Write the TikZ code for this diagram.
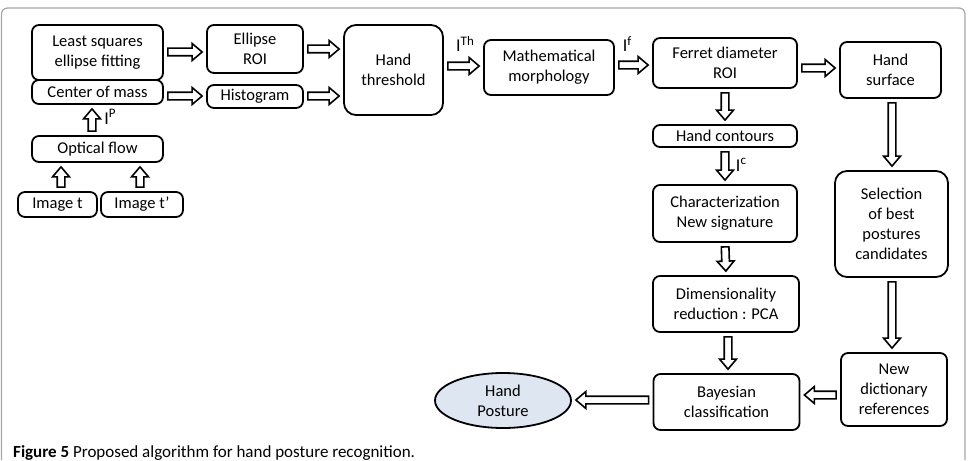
\documentclass[tikz,border=0pt]{standalone}
\usepackage{fontspec}
\setmainfont{Carlito}
\usetikzlibrary{positioning,calc,shapes.geometric}

\newcommand\flowgap{4pt}
\newcommand\flowhead{10pt}
\newcommand\flowhalf{8.5pt}
\newcommand\flowshaft{3.8pt}
\newcommand\supl[1]{\raisebox{0.75ex}{\fontsize{13}{13}\selectfont #1}}

\begin{document}
\begin{tikzpicture}[
  x=1pt, y=-1pt,
  box/.style={draw, line width=1.8pt, rounded corners=7pt, align=center, inner sep=0pt,
    font=\fontsize{16.5}{20}\selectfont},
  flow/.style={draw, line width=1.6pt, fill=white, line join=miter,
    to path={
      ($(\tikztostart)!\flowgap!(\tikztotarget)$) coordinate (fS)
      ($(\tikztotarget)!\flowgap!(\tikztostart)$) coordinate (fT)
      ($(fT)!\flowhead!(fS)$) coordinate (fQ)
      ($(fS)!\flowshaft!90:(fT)$) -- ($(fQ)!\flowshaft!-90:(fS)$)
      -- ($(fQ)!\flowhalf!-90:(fS)$) -- (fT) -- ($(fQ)!\flowhalf!90:(fS)$)
      -- ($(fQ)!\flowshaft!90:(fS)$) -- ($(fS)!\flowshaft!-90:(fT)$) -- cycle}},
  lbl/.style={font=\fontsize{18}{20}\selectfont, inner sep=0pt}
]
\useasboundingbox (0,0) rectangle (976,460);
% frame
\draw[gray!70, line width=1.2pt, rounded corners=6pt] (1.5,460) -- (1.5,8) -- (965,8) -- (965,460);

% left column
\node[box, minimum width=131pt, minimum height=55pt] (fit) at (97.5,52.5) {Least squares\\ellipse fitting};
\node[box, minimum width=131pt, minimum height=24pt] (mass) at (97.5,92) {Center of mass};
\node[box, minimum width=131pt, minimum height=26pt] (optflow) at (97.5,149) {Optical flow};
\node[box, minimum width=79pt, minimum height=25pt] (imgt) at (57.5,204.5) {Image t};
\node[box, minimum width=82pt, minimum height=25pt] (imgtt) at (142,204.5) {Image t'};

% top row
\node[box, minimum width=96pt, minimum height=48pt] (ellroi) at (255,49) {Ellipse\\ROI};
\node[box, minimum width=96pt, minimum height=23pt] (histo) at (255,96.5) {Histogram};
\node[box, rounded corners=12pt, minimum width=99pt, minimum height=90pt] (thresh) at (393.5,70) {Hand\\threshold};
\node[box, minimum width=130pt, minimum height=55pt] (morpho) at (549,67.5) {Mathematical\\morphology};
\node[box, minimum width=144pt, minimum height=50pt] (ferret) at (725,63) {Ferret diameter\\ROI};
\node[box, minimum width=101pt, minimum height=56pt] (surface) at (890.5,70) {Hand\\surface};

% middle column
\node[box, minimum width=144pt, minimum height=22pt] (contours) at (725,136) {Hand contours};
\node[box, minimum width=144pt, minimum height=57pt] (charac) at (725,213.5) {Characterization\\New signature};
\node[box, minimum width=146pt, minimum height=56pt] (pca) at (726,304) {Dimensionality\\reduction : PCA};
\node[box, minimum width=146pt, minimum height=56pt] (bayes) at (726.5,402) {Bayesian\\classification};
\node[box, ellipse, fill={rgb,255:red,221;green,230;blue,241}, minimum width=136pt, minimum height=55pt] (posture) at (503,400.5) {Hand\\Posture};

% right column
\node[box, rounded corners=12pt, minimum width=113pt, minimum height=106pt] (select) at (891.5,224) {Selection\\of best\\postures\\candidates};
\node[box, minimum width=106pt, minimum height=73pt] (newdict) at (894,389.5) {New\\dictionary\\references};

% arrows
\draw[flow] (optflow.north -| 92,0) to (mass.south -| 92,0);
\draw[flow] (imgt.north -| 61,0) to (optflow.south -| 61,0);
\draw[flow] (imgtt.north -| 140,0) to (optflow.south -| 140,0);
\draw[flow] (fit.east |- 0,52) to (ellroi.west |- 0,52);
\draw[flow] (mass.east |- 0,96) to (histo.west |- 0,96);
\draw[flow] (ellroi.east |- 0,49) to (thresh.west |- 0,49);
\draw[flow] (histo.east |- 0,96) to (thresh.west |- 0,96);
\draw[flow] (thresh.east |- 0,66) to (morpho.west |- 0,66);
\draw[flow] (morpho.east |- 0,65) to (ferret.west |- 0,65);
\draw[flow] (ferret.east |- 0,68) to (surface.west |- 0,68);
\draw[flow] (ferret.south) to (contours.north);
\draw[flow] (contours.south) to (charac.north);
\draw[flow] (charac.south) to (pca.north);
\draw[flow] (pca.south -| 728,0) to (bayes.north -| 728,0);
\draw[flow] (surface.south -| 892,0) to (select.north -| 892,0);
\draw[flow] (select.south -| 892,0) to (newdict.north -| 892,0);
\draw[flow] (newdict.west |- 0,395) to (bayes.east |- 0,395);
\draw[flow] (bayes.west |- 0,400) to (posture.east |- 0,400);

% arrow labels
\node[lbl] (lp) at (110,117) {I\supl{P}};
\node[lbl] (lth) at (465,44) {I\supl{Th}};
\node[lbl] (lf) at (627,44) {I\supl{f}};
\node[lbl] (lc) at (741,165) {I\supl{c}};

% caption
\node[anchor=base west, inner sep=0pt, font=\fontsize{17}{20}\selectfont] (caption) at (13,457)
  {\textbf{Figure 5} Proposed algorithm for hand posture recognition.};
\end{tikzpicture}
\end{document}
